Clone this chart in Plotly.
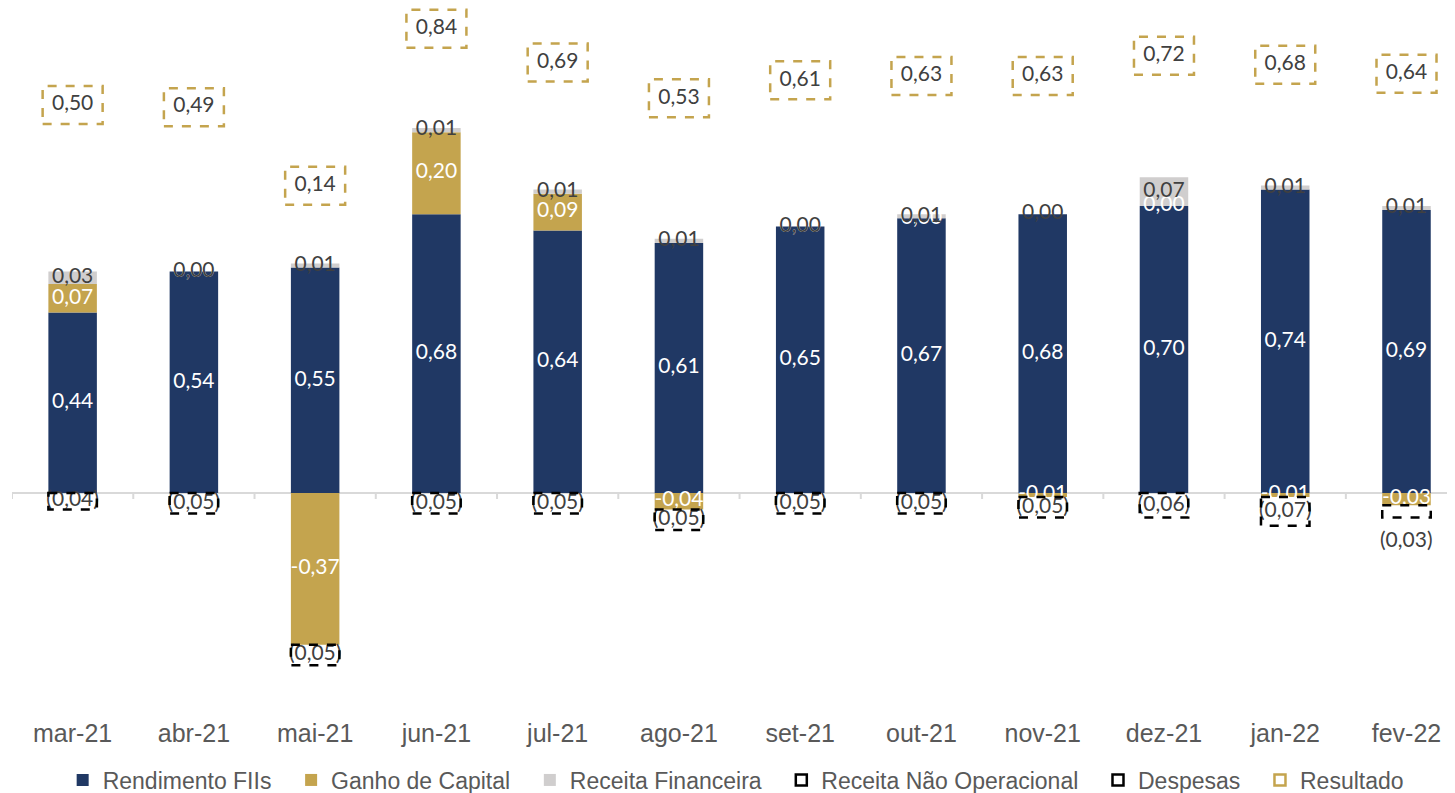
import plotly.graph_objects as go

# ---------------- data ----------------
meses = ["mar-21", "abr-21", "mai-21", "jun-21", "jul-21", "ago-21",
         "set-21", "out-21", "nov-21", "dez-21", "jan-22", "fev-22"]
rendimento_fiis = [0.44, 0.54, 0.55, 0.68, 0.64, 0.61, 0.65, 0.67, 0.68, 0.70, 0.74, 0.69]
ganho_capital = [0.07, 0.00, -0.37, 0.20, 0.09, -0.04, 0.00, 0.00, -0.01, 0.00, -0.01, -0.03]
receita_financeira = [0.03, 0.00, 0.01, 0.01, 0.01, 0.01, 0.00, 0.01, 0.00, 0.07, 0.01, 0.01]
receita_nao_operacional = [0.00] * 12
despesas = [-0.04, -0.05, -0.05, -0.05, -0.05, -0.05, -0.05, -0.05, -0.05, -0.06, -0.07, -0.03]
resultado = [0.50, 0.49, 0.14, 0.84, 0.69, 0.53, 0.61, 0.63, 0.63, 0.72, 0.68, 0.64]

# ---------------- style ----------------
NAVY = "#203864"
GOLD = "#C4A44E"
GRAY = "#D0CECE"
LABEL_DARK = "#404040"
AXIS_TXT = "#595959"
LABEL_FONT = "Lato"
AXIS_FONT = "Liberation Sans"
BAR_W = 0.4
GAP = "\u00a0\u00a0\u200a"

n = len(meses)


def fmt(v):
    s = f"{abs(v):.2f}".replace(".", ",")
    return "-" + s if v < 0 else s


def fmt_par(v):
    return "(" + f"{abs(v):.2f}".replace(".", ",") + ")"


# stacked centres (relative stacking, as plotly does)
series = [rendimento_fiis, ganho_capital, receita_financeira, despesas]
pos = [0.0] * n
neg = [0.0] * n
centres = []
bases = []
for s in series:
    c, b = [], []
    for i, v in enumerate(s):
        if v >= 0:
            b.append(pos[i]); c.append(pos[i] + v / 2); pos[i] += v
        else:
            b.append(neg[i]); c.append(neg[i] + v / 2); neg[i] += v
    centres.append(c)
    bases.append(b)

fig = go.Figure()

fig.add_trace(go.Bar(x=meses, y=rendimento_fiis, name="Rendimento FIIs" + GAP,
                     marker=dict(color=NAVY, line=dict(width=0)), width=BAR_W, hoverinfo="skip"))
fig.add_trace(go.Bar(x=meses, y=ganho_capital, name="Ganho de Capital" + GAP,
                     marker=dict(color=GOLD, line=dict(width=0)), width=BAR_W, hoverinfo="skip"))
fig.add_trace(go.Bar(x=meses, y=receita_financeira, name="Receita Financeira" + GAP,
                     marker=dict(color=GRAY, line=dict(width=0)), width=BAR_W, hoverinfo="skip"))
fig.add_trace(go.Bar(x=meses, y=receita_nao_operacional, name="Receita Não Operacional",
                     showlegend=False, marker=dict(color="rgba(0,0,0,0)", line=dict(width=0)),
                     width=BAR_W, hoverinfo="skip"))
fig.add_trace(go.Bar(x=meses, y=despesas, name="Despesas", showlegend=False,
                     marker=dict(color="rgba(0,0,0,0)", line=dict(width=0)), width=BAR_W,
                     hoverinfo="skip"))

# legend-only entries for dashed series
for nm, col in [("Receita Não Operacional" + GAP, "black"), ("Despesas" + GAP, "black"),
                ("Resultado", GOLD)]:
    fig.add_trace(go.Scatter(x=[None], y=[None], mode="markers", name=nm,
                             marker=dict(symbol="square-open", size=11, color=col,
                                         line=dict(width=2.5, color=col))))

# data labels
fig.add_trace(go.Scatter(x=meses, y=centres[0], mode="text", text=[fmt(v) for v in rendimento_fiis],
                         textfont=dict(family=LABEL_FONT, size=21, color="white"),
                         showlegend=False, hoverinfo="skip"))
fig.add_trace(go.Scatter(x=meses, y=centres[1], mode="text", text=[fmt(v) for v in ganho_capital],
                         textfont=dict(family=LABEL_FONT, size=21, color="white"),
                         showlegend=False, hoverinfo="skip"))
fig.add_trace(go.Scatter(x=meses, y=centres[2], mode="text", text=[fmt(v) for v in receita_financeira],
                         textfont=dict(family=LABEL_FONT, size=21, color=LABEL_DARK),
                         showlegend=False, hoverinfo="skip"))

# despesas labels: inside the box, or below it when the box is too small
annotations = []
in_x, in_y, in_t = [], [], []
for i, v in enumerate(despesas):
    if abs(v) < 0.035:
        annotations.append(dict(x=meses[i], y=bases[3][i] + v, xref="x", yref="y",
                                text=fmt_par(v), showarrow=False, yanchor="top", yshift=-6,
                                font=dict(family=LABEL_FONT, size=21, color=LABEL_DARK)))
    else:
        in_x.append(meses[i]); in_y.append(centres[3][i]); in_t.append(fmt_par(v))
fig.add_trace(go.Scatter(x=in_x, y=in_y, mode="text", text=in_t,
                         textfont=dict(family=LABEL_FONT, size=21, color=LABEL_DARK),
                         showlegend=False, hoverinfo="skip"))

# resultado labels on the secondary axis
fig.add_trace(go.Scatter(x=meses, y=resultado, yaxis="y2", mode="text",
                         text=[fmt(v) for v in resultado],
                         textfont=dict(family=LABEL_FONT, size=21, color=LABEL_DARK),
                         showlegend=False, hoverinfo="skip"))

shapes = []
# dashed despesas boxes
for i, v in enumerate(despesas):
    shapes.append(dict(type="rect", xref="x", yref="y",
                       x0=i - BAR_W / 2, x1=i + BAR_W / 2,
                       y0=bases[3][i], y1=bases[3][i] + v,
                       line=dict(color="black", width=2.5, dash="dash"),
                       fillcolor="rgba(0,0,0,0)", layer="above"))
# dashed resultado boxes
for i, v in enumerate(resultado):
    shapes.append(dict(type="rect", xref="x", yref="y2",
                       xsizemode="pixel", xanchor=i, x0=-30, x1=30,
                       ysizemode="pixel", yanchor=v, y0=-19, y1=19,
                       line=dict(color=GOLD, width=2.5, dash="dash"),
                       fillcolor="rgba(0,0,0,0)", layer="above"))
# category boundary ticks on the zero line
for i in range(n + 1):
    shapes.append(dict(type="line", xref="x", yref="y",
                       x0=i - 0.5, x1=i - 0.5,
                       ysizemode="pixel", yanchor=0, y0=0, y1=-6,
                       line=dict(color="#D9D9D9", width=2), layer="below"))

# axis geometry (the page body adds an 8px offset on top/left)
OFF = 8
H, W = 793 - OFF, 1455 - OFF
M_T, M_B, M_L, M_R = 0, 83, 12 - OFF, 0
plot_h = H - M_T - M_B
zero_px = 493 - OFF - M_T
px_per_unit = 410.0
y_range = [-(plot_h - zero_px) / px_per_unit, zero_px / px_per_unit]
zero2_px = 217 - OFF - M_T
px_per_unit2 = 224.0
y2_range = [-(plot_h - zero2_px) / px_per_unit2, zero2_px / px_per_unit2]

fig.update_layout(
    width=W, height=H,
    margin=dict(t=M_T, b=M_B, l=M_L, r=M_R, pad=0, autoexpand=False),
    paper_bgcolor="white", plot_bgcolor="white",
    barmode="relative", bargap=0.6,
    shapes=shapes,
    annotations=annotations,
    xaxis=dict(type="category", range=[-0.5, n - 0.6], showgrid=False, showline=False,
               ticks="", zeroline=False, ticklabelstandoff=6, automargin=False,
               tickfont=dict(family=AXIS_FONT, size=25, color=AXIS_TXT)),
    yaxis=dict(range=y_range, showgrid=False, showticklabels=False, ticks="", automargin=False,
               showline=False, zeroline=True, zerolinecolor="#D9D9D9", zerolinewidth=2),
    yaxis2=dict(range=y2_range, overlaying="y", visible=False, automargin=False),
    legend=dict(orientation="h", x=0.5015, xanchor="center", y=-70 / plot_h, yanchor="middle",
                font=dict(family=AXIS_FONT, size=23, color=AXIS_TXT),
                itemwidth=30, traceorder="normal", bgcolor="rgba(0,0,0,0)"),
    showlegend=True,
)

fig.write_html("out.html")
